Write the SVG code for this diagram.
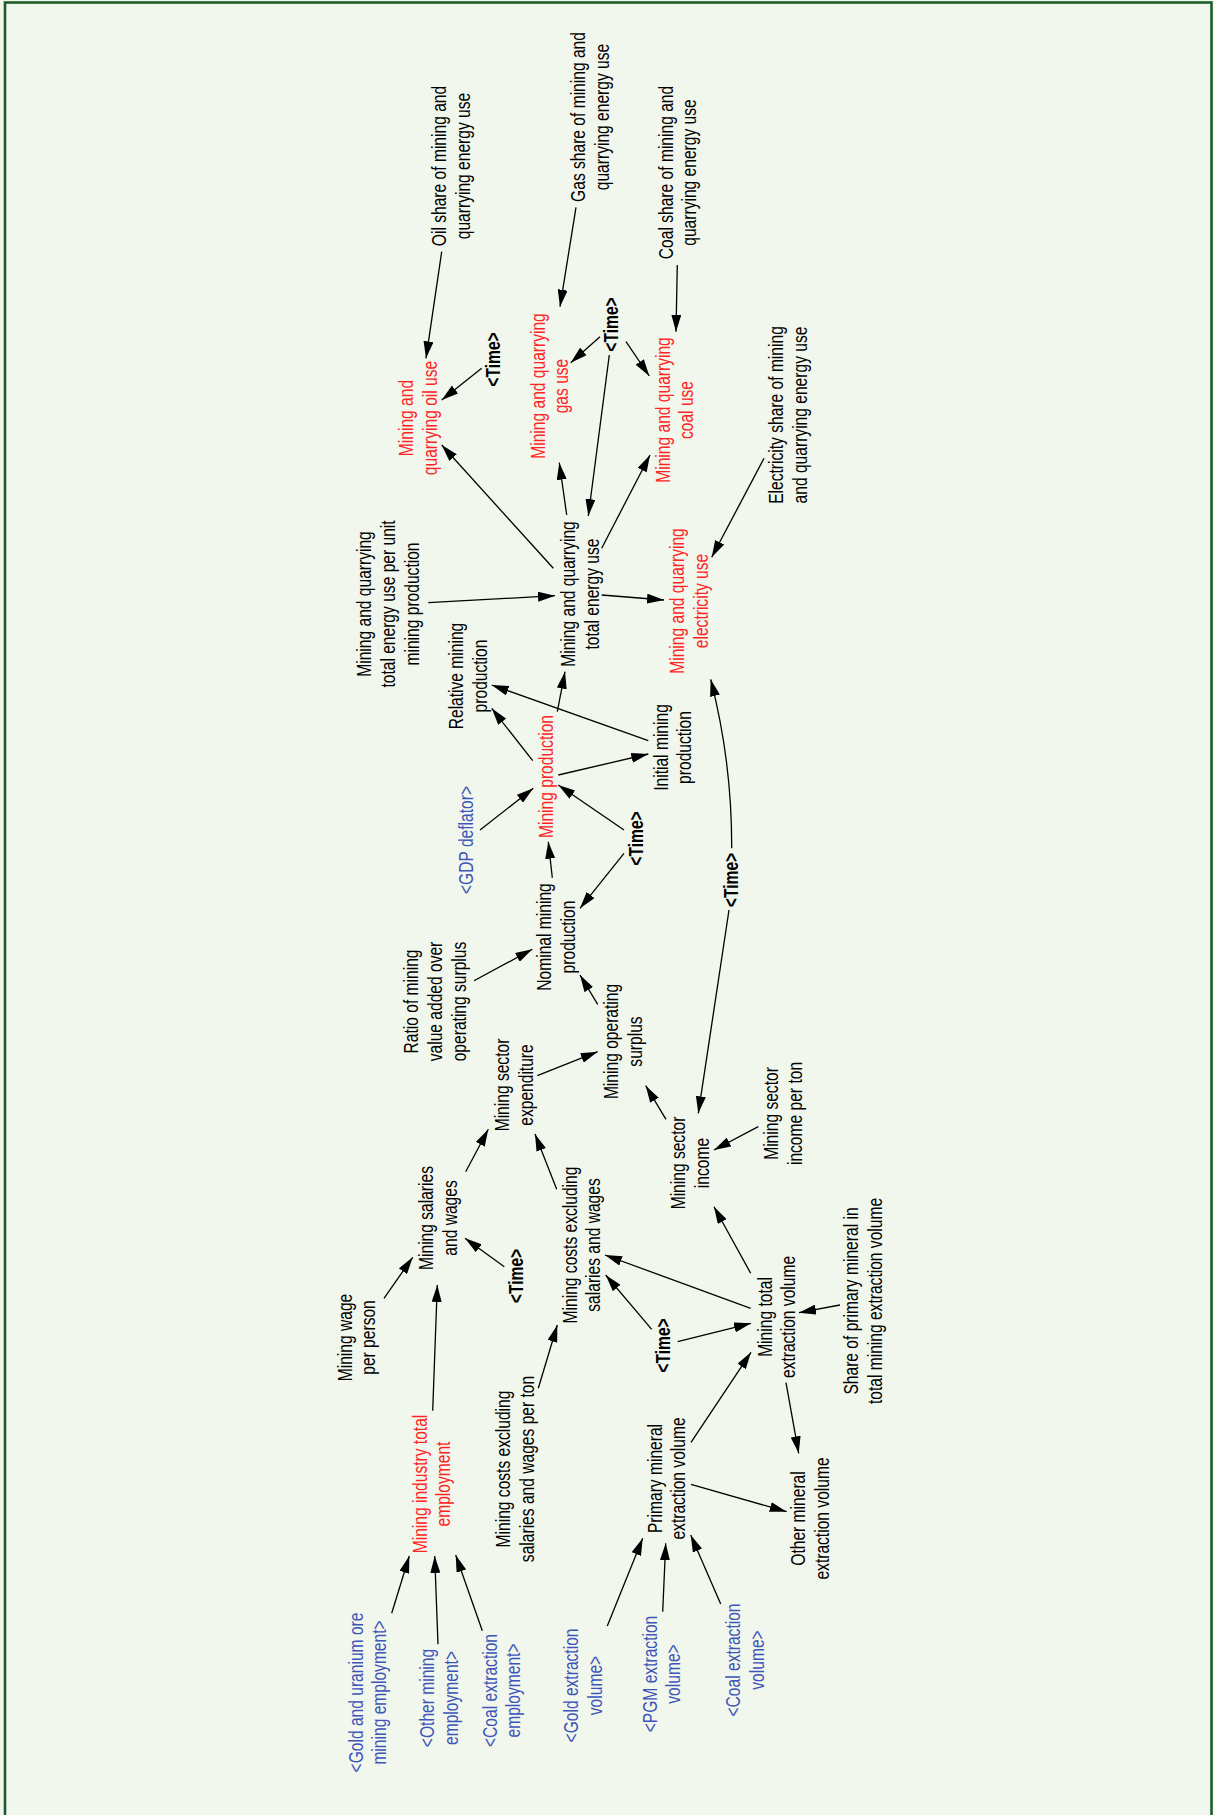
<svg xmlns="http://www.w3.org/2000/svg" width="1214" height="1815" viewBox="0 0 1214 1815">
<style>
text{font-family:"Liberation Sans",Arial,sans-serif;font-size:20px;text-anchor:middle;fill:#000}
.r{fill:#ff2424}
.b{fill:#3d55b8}
.t{font-weight:bold}
#connectors line,#connectors path{stroke:#000;stroke-width:1.3;fill:none}
</style>
<defs>
<marker id="ah" markerWidth="17" markerHeight="10" refX="17" refY="5" orient="auto" markerUnits="userSpaceOnUse"><path d="M0,0 L17,5 L0,10 z" fill="#000"/></marker>
</defs>
<rect x="0" y="0" width="1214" height="1815" fill="#f2f7ed"/>
<rect x="5" y="2.5" width="1206.5" height="1830" fill="#f2f7ed" stroke="#1b5e2c" stroke-width="2.6"/>

<g id="connectors" marker-end="url(#ah)">
<line x1="441.7" y1="251.7" x2="426" y2="358.3" marker-end="url(#ah)"/>
<line x1="481.7" y1="368.3" x2="441.7" y2="400" marker-end="url(#ah)"/>
<line x1="576" y1="207.3" x2="560" y2="306.7" marker-end="url(#ah)"/>
<line x1="600" y1="336.7" x2="570.7" y2="362.7" marker-end="url(#ah)"/>
<line x1="626" y1="341.7" x2="649.3" y2="376" marker-end="url(#ah)"/>
<line x1="677.3" y1="265" x2="676" y2="331.7" marker-end="url(#ah)"/>
<line x1="609.3" y1="355" x2="588.3" y2="516" marker-end="url(#ah)"/>
<line x1="553.3" y1="568.3" x2="441.7" y2="445" marker-end="url(#ah)"/>
<line x1="566.7" y1="515" x2="559.3" y2="462.7" marker-end="url(#ah)"/>
<line x1="601.7" y1="548.3" x2="650" y2="455" marker-end="url(#ah)"/>
<line x1="428.3" y1="602.7" x2="555" y2="595.7" marker-end="url(#ah)"/>
<line x1="601.7" y1="595" x2="664" y2="600" marker-end="url(#ah)"/>
<line x1="764" y1="458.3" x2="711.7" y2="557.3" marker-end="url(#ah)"/>
<line x1="557.3" y1="711.7" x2="565" y2="671.7" marker-end="url(#ah)"/>
<line x1="532.7" y1="760.7" x2="491.7" y2="708.3" marker-end="url(#ah)"/>
<line x1="648.3" y1="740.7" x2="491.7" y2="685" marker-end="url(#ah)"/>
<line x1="558.3" y1="775" x2="648.3" y2="754" marker-end="url(#ah)"/>
<line x1="480" y1="830" x2="533.3" y2="788.3" marker-end="url(#ah)"/>
<line x1="624" y1="830" x2="558.3" y2="785" marker-end="url(#ah)"/>
<line x1="624" y1="853.3" x2="580" y2="908.3" marker-end="url(#ah)"/>
<line x1="552.3" y1="877.7" x2="548.3" y2="841.7" marker-end="url(#ah)"/>
<line x1="474" y1="980.7" x2="532.3" y2="949.3" marker-end="url(#ah)"/>
<line x1="597.7" y1="1004.3" x2="580" y2="975" marker-end="url(#ah)"/>
<line x1="537.3" y1="1075.7" x2="597.7" y2="1051.7" marker-end="url(#ah)"/>
<line x1="666" y1="1119.3" x2="645.7" y2="1085.7" marker-end="url(#ah)"/>
<line x1="465.7" y1="1171.7" x2="488.3" y2="1129.3" marker-end="url(#ah)"/>
<line x1="556.7" y1="1189.3" x2="535" y2="1134" marker-end="url(#ah)"/>
<line x1="384" y1="1298.3" x2="412.7" y2="1257.3" marker-end="url(#ah)"/>
<line x1="504.3" y1="1266.7" x2="465" y2="1238.3" marker-end="url(#ah)"/>
<line x1="432.7" y1="1410.7" x2="437.3" y2="1285" marker-end="url(#ah)"/>
<line x1="538.3" y1="1388.3" x2="557.3" y2="1325" marker-end="url(#ah)"/>
<line x1="651.7" y1="1329.3" x2="605.7" y2="1275" marker-end="url(#ah)"/>
<line x1="750.7" y1="1308.3" x2="605" y2="1255" marker-end="url(#ah)"/>
<line x1="677.7" y1="1341.7" x2="751" y2="1323.3" marker-end="url(#ah)"/>
<line x1="691" y1="1442.3" x2="751" y2="1352.3" marker-end="url(#ah)"/>
<line x1="786" y1="1382.7" x2="798.7" y2="1453.3" marker-end="url(#ah)"/>
<line x1="691" y1="1484.3" x2="786.7" y2="1511.7" marker-end="url(#ah)"/>
<line x1="840" y1="1305" x2="799" y2="1312.7" marker-end="url(#ah)"/>
<line x1="750.7" y1="1273.3" x2="714" y2="1206.7" marker-end="url(#ah)"/>
<line x1="758.3" y1="1126.7" x2="714" y2="1150" marker-end="url(#ah)"/>
<line x1="729" y1="910" x2="698.3" y2="1113.3" marker-end="url(#ah)"/>
<path d="M731.7,848.3 Q732,762 710.7,679.3" marker-end="url(#ah)"/>
<line x1="391.7" y1="1613.3" x2="409.3" y2="1556" marker-end="url(#ah)"/>
<line x1="438" y1="1644.3" x2="434.7" y2="1556" marker-end="url(#ah)"/>
<line x1="482.3" y1="1630.7" x2="455.7" y2="1555" marker-end="url(#ah)"/>
<line x1="607.3" y1="1626" x2="642.7" y2="1538.3" marker-end="url(#ah)"/>
<line x1="662.7" y1="1611.7" x2="665.7" y2="1543.3" marker-end="url(#ah)"/>
<line x1="720.7" y1="1604" x2="690.7" y2="1535" marker-end="url(#ah)"/>
</g>

<g id="oil_share"><text transform="translate(446,166) rotate(-90) scale(0.78,1)"><tspan x="0" y="0">Oil share of mining and</tspan><tspan x="0" y="24">quarrying energy use</tspan></text></g>
<g id="gas_share"><text transform="translate(585,117) rotate(-90) scale(0.78,1)"><tspan x="0" y="0">Gas share of mining and</tspan><tspan x="0" y="24">quarrying energy use</tspan></text></g>
<g id="coal_share"><text transform="translate(672.5,172.5) rotate(-90) scale(0.78,1)"><tspan x="0" y="0">Coal share of mining and</tspan><tspan x="0" y="24">quarrying energy use</tspan></text></g>
<g id="time_oil"><text class="t" transform="translate(500,359.5) rotate(-90) scale(0.78,1)">&lt;Time&gt;</text></g>
<g id="oil_use"><text class="r" transform="translate(413,418) rotate(-90) scale(0.78,1)"><tspan x="0" y="0">Mining and</tspan><tspan x="0" y="24">quarrying oil use</tspan></text></g>
<g id="gas_use"><text class="r" transform="translate(545,386) rotate(-90) scale(0.78,1)"><tspan x="0" y="0">Mining and quarrying</tspan><tspan x="0" y="23">gas use</tspan></text></g>
<g id="time_gas"><text class="t" transform="translate(618,324.5) rotate(-90) scale(0.78,1)">&lt;Time&gt;</text></g>
<g id="coal_use"><text class="r" transform="translate(670,410) rotate(-90) scale(0.78,1)"><tspan x="0" y="0">Mining and quarrying</tspan><tspan x="0" y="23">coal use</tspan></text></g>
<g id="elec_share"><text transform="translate(783,415) rotate(-90) scale(0.78,1)"><tspan x="0" y="0">Electricity share of mining</tspan><tspan x="0" y="24">and quarrying energy use</tspan></text></g>
<g id="energy_per_unit"><text transform="translate(371,604) rotate(-90) scale(0.78,1)"><tspan x="0" y="0">Mining and quarrying</tspan><tspan x="0" y="24">total energy use per unit</tspan><tspan x="0" y="48">mining production</tspan></text></g>
<g id="total_energy"><text transform="translate(575,594) rotate(-90) scale(0.78,1)"><tspan x="0" y="0">Mining and quarrying</tspan><tspan x="0" y="24">total energy use</tspan></text></g>
<g id="elec_use"><text class="r" transform="translate(684,601) rotate(-90) scale(0.78,1)"><tspan x="0" y="0">Mining and quarrying</tspan><tspan x="0" y="24">electricity use</tspan></text></g>
<g id="relative_production"><text transform="translate(463,676) rotate(-90) scale(0.78,1)"><tspan x="0" y="0">Relative mining</tspan><tspan x="0" y="24">production</tspan></text></g>
<g id="mining_production"><text class="r" transform="translate(553,776.5) rotate(-90) scale(0.78,1)">Mining production</text></g>
<g id="initial_production"><text transform="translate(667.5,747.5) rotate(-90) scale(0.78,1)"><tspan x="0" y="0">Initial mining</tspan><tspan x="0" y="24">production</tspan></text></g>
<g id="gdp_deflator"><text class="b" transform="translate(473,840) rotate(-90) scale(0.78,1)">&lt;GDP deflator&gt;</text></g>
<g id="time_production"><text class="t" transform="translate(642.5,838.5) rotate(-90) scale(0.78,1)">&lt;Time&gt;</text></g>
<g id="nominal_production"><text transform="translate(551,937) rotate(-90) scale(0.78,1)"><tspan x="0" y="0">Nominal mining</tspan><tspan x="0" y="24">production</tspan></text></g>
<g id="time_electricity"><text class="t" transform="translate(737.5,880) rotate(-90) scale(0.78,1)">&lt;Time&gt;</text></g>
<g id="ratio_value_added"><text transform="translate(418,1001.5) rotate(-90) scale(0.78,1)"><tspan x="0" y="0">Ratio of mining</tspan><tspan x="0" y="24">value added over</tspan><tspan x="0" y="48">operating surplus</tspan></text></g>
<g id="operating_surplus"><text transform="translate(618,1041.5) rotate(-90) scale(0.78,1)"><tspan x="0" y="0">Mining operating</tspan><tspan x="0" y="24">surplus</tspan></text></g>
<g id="sector_expenditure"><text transform="translate(509,1085) rotate(-90) scale(0.78,1)"><tspan x="0" y="0">Mining sector</tspan><tspan x="0" y="24">expenditure</tspan></text></g>
<g id="sector_income"><text transform="translate(685,1163) rotate(-90) scale(0.78,1)"><tspan x="0" y="0">Mining sector</tspan><tspan x="0" y="24">income</tspan></text></g>
<g id="income_per_ton"><text transform="translate(778,1113.5) rotate(-90) scale(0.78,1)"><tspan x="0" y="0">Mining sector</tspan><tspan x="0" y="24">income per ton</tspan></text></g>
<g id="salaries_wages"><text transform="translate(433,1218) rotate(-90) scale(0.78,1)"><tspan x="0" y="0">Mining salaries</tspan><tspan x="0" y="24">and wages</tspan></text></g>
<g id="time_salaries"><text class="t" transform="translate(522.5,1276) rotate(-90) scale(0.78,1)">&lt;Time&gt;</text></g>
<g id="costs_excluding"><text transform="translate(576.5,1245) rotate(-90) scale(0.78,1)"><tspan x="0" y="0">Mining costs excluding</tspan><tspan x="0" y="24">salaries and wages</tspan></text></g>
<g id="wage_per_person"><text transform="translate(351.5,1337.5) rotate(-90) scale(0.78,1)"><tspan x="0" y="0">Mining wage</tspan><tspan x="0" y="24">per person</tspan></text></g>
<g id="time_costs"><text class="t" transform="translate(670,1345.5) rotate(-90) scale(0.78,1)">&lt;Time&gt;</text></g>
<g id="total_extraction"><text transform="translate(771.5,1317) rotate(-90) scale(0.78,1)"><tspan x="0" y="0">Mining total</tspan><tspan x="0" y="24">extraction volume</tspan></text></g>
<g id="share_primary"><text transform="translate(858,1301) rotate(-90) scale(0.78,1)"><tspan x="0" y="0">Share of primary mineral in</tspan><tspan x="0" y="24">total mining extraction volume</tspan></text></g>
<g id="industry_employment"><text class="r" transform="translate(426.5,1484) rotate(-90) scale(0.78,1)"><tspan x="0" y="0">Mining industry total</tspan><tspan x="0" y="24">employment</tspan></text></g>
<g id="costs_per_ton"><text transform="translate(510,1469) rotate(-90) scale(0.78,1)"><tspan x="0" y="0">Mining costs excluding</tspan><tspan x="0" y="24">salaries and wages per ton</tspan></text></g>
<g id="primary_extraction"><text transform="translate(661.5,1478.5) rotate(-90) scale(0.78,1)"><tspan x="0" y="0">Primary mineral</tspan><tspan x="0" y="24">extraction volume</tspan></text></g>
<g id="other_mineral"><text transform="translate(805,1518.5) rotate(-90) scale(0.78,1)"><tspan x="0" y="0">Other mineral</tspan><tspan x="0" y="24">extraction volume</tspan></text></g>
<g id="gold_uranium_employment"><text class="b" transform="translate(362.5,1692.5) rotate(-90) scale(0.78,1)"><tspan x="0" y="0">&lt;Gold and uranium ore</tspan><tspan x="0" y="24">mining employment&gt;</tspan></text></g>
<g id="other_mining_employment"><text class="b" transform="translate(434,1698) rotate(-90) scale(0.78,1)"><tspan x="0" y="0">&lt;Other mining</tspan><tspan x="0" y="24">employment&gt;</tspan></text></g>
<g id="coal_employment"><text class="b" transform="translate(496.5,1690.5) rotate(-90) scale(0.78,1)"><tspan x="0" y="0">&lt;Coal extraction</tspan><tspan x="0" y="24">employment&gt;</tspan></text></g>
<g id="gold_volume"><text class="b" transform="translate(578,1685.5) rotate(-90) scale(0.78,1)"><tspan x="0" y="0">&lt;Gold extraction</tspan><tspan x="0" y="24">volume&gt;</tspan></text></g>
<g id="pgm_volume"><text class="b" transform="translate(656.5,1674) rotate(-90) scale(0.78,1)"><tspan x="0" y="0">&lt;PGM extraction</tspan><tspan x="0" y="24">volume&gt;</tspan></text></g>
<g id="coal_volume"><text class="b" transform="translate(740,1660) rotate(-90) scale(0.78,1)"><tspan x="0" y="0">&lt;Coal extraction</tspan><tspan x="0" y="24">volume&gt;</tspan></text></g>
</svg>
